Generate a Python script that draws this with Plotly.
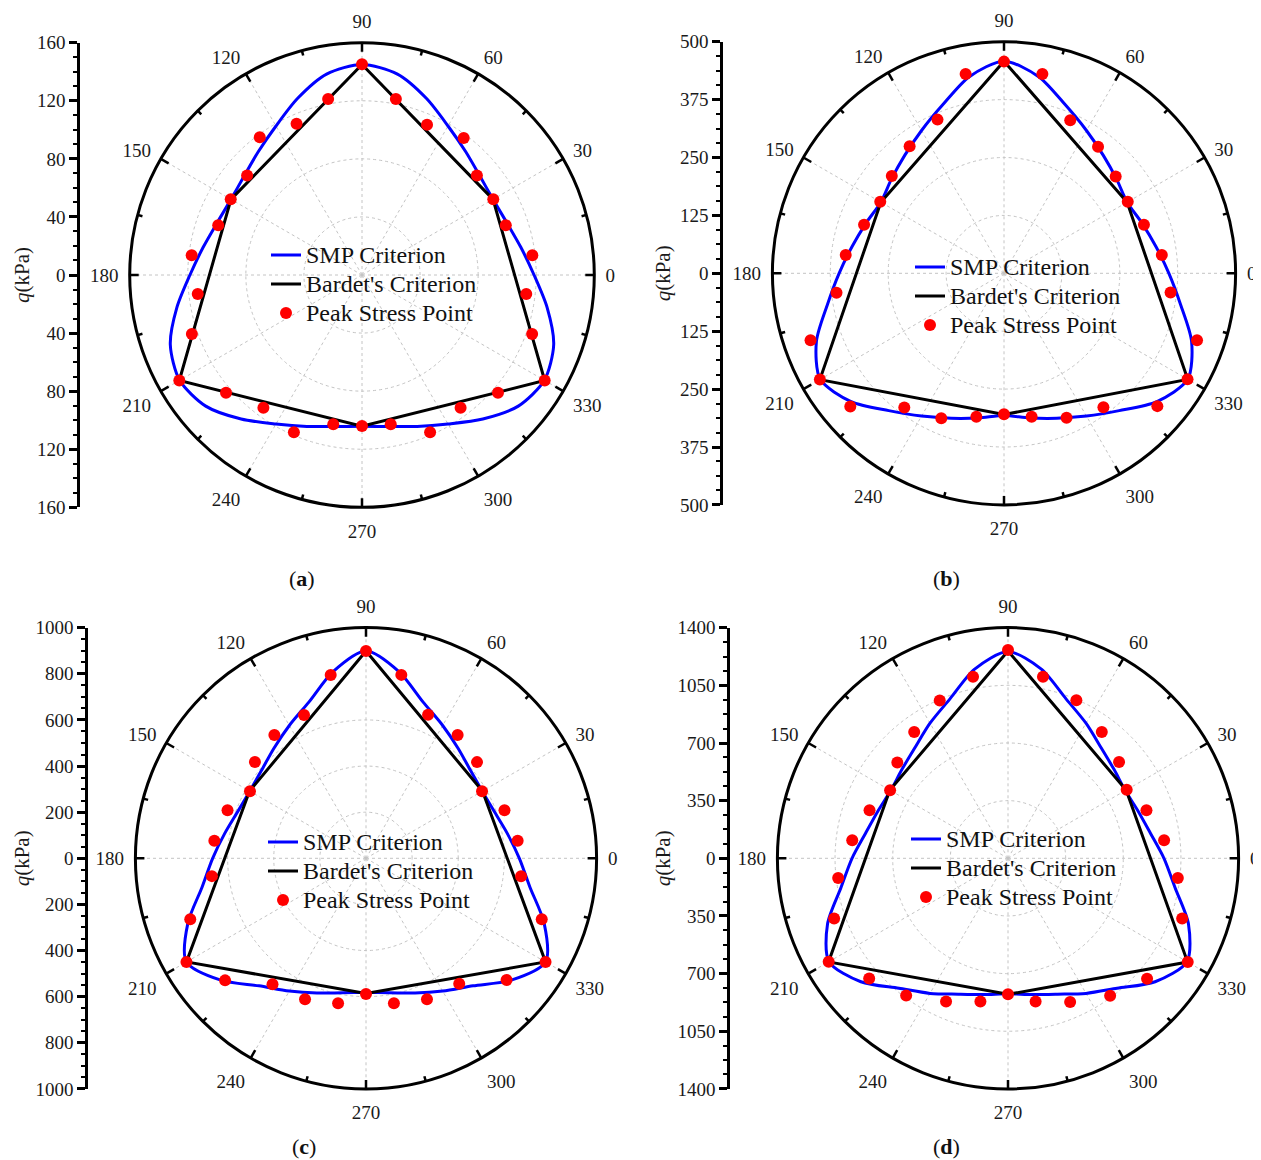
import plotly.graph_objects as go

SERIF = "Liberation Serif, Times New Roman, serif"
OFF = 8                      # default page (body) margin of the html page
W, H = 1261 - OFF, 1160 - OFF

# ---------------- data ----------------
# angles (deg) of the peak stress points
theta_pts = [90, 79.1, 66.6, 53.4, 40.9, 30, 19.1, 6.6, 353.4, 340.9, 330, 319.1,
             306.6, 293.4, 280.9, 270, 259.1, 246.6, 233.4, 220.9, 210, 199.1,
             186.6, 173.4, 160.9, 150, 139.1, 126.6, 113.4, 100.9]

peak_a = [145.1, 123.4, 112.8, 117.5, 104.7, 104.4, 104.8, 118.1, 113.9, 124.0, 145.3, 123.9,
          113.9, 118.1, 104.7, 104.0, 104.7, 118.1, 113.9, 123.9, 145.3, 124.0,
          113.9, 118.1, 104.8, 104.4, 104.7, 118.1, 113.5, 123.4]
peak_b = [457, 438, 360, 340.5, 319, 308.5, 319.7, 343, 362, 441, 457.5, 438,
          360, 340, 315.3, 304.4, 315.6, 341, 361, 439, 459, 442,
          364, 344, 319.7, 308.5, 320.5, 341.7, 361.5, 438]
peak_c = [899, 810, 678, 666.5, 637, 581, 635.5, 662, 677, 806.5, 899, 806.4,
          678, 665.7, 640.2, 588.5, 640.2, 665.7, 680, 808.5, 899, 806.5,
          672.7, 662, 635.5, 581, 637.3, 666.5, 676.7, 809.6]
peak_d = [1265, 1123, 1045, 955, 892, 832, 889.6, 954, 1038, 1119, 1260, 1117,
          1040, 950, 886, 825.6, 886, 947, 1037, 1115, 1257, 1117,
          1038, 952, 889.6, 826.5, 889, 955, 1043.5, 1123]

# SMP criterion curve, sampled every 10 deg
theta_smp = [0, 10, 20, 30, 40, 50, 60, 70, 80, 90, 100, 110, 120, 130, 140, 150, 160, 170,
             180, 190, 200, 210, 220, 230, 240, 250, 260, 270, 280, 290, 300, 310, 320, 330,
             340, 350, 360]
smp_a = [118.5, 111, 106, 104.2, 106, 111, 118.5, 129.5, 140.5, 145, 140.5, 129.5, 118.5,
         111, 106, 104.2, 106, 111, 118.5, 129.5, 140.5, 145, 140.5, 129.5, 118.5, 111, 106,
         104.2, 106, 111, 118.5, 129.5, 140.5, 145, 140.5, 129.5, 118.5]
smp_b = [356, 333, 317, 307, 317, 333, 356, 387, 431, 458, 431, 387, 356,
         333, 317, 307, 317, 333, 356, 387, 431, 458, 431, 387, 356, 333, 317,
         307, 317, 333, 356, 387, 431, 458, 431, 387, 356]
smp_c = [665, 622, 592, 582, 592, 622, 665, 722, 822, 899, 822, 722, 665,
         622, 592, 582, 592, 622, 665, 722, 822, 899, 822, 722, 665, 622, 592,
         582, 592, 622, 665, 722, 822, 899, 822, 722, 665]
smp_d = [947, 878, 840, 822, 840, 878, 947, 1030, 1166, 1255, 1166, 1030, 947,
         878, 840, 822, 840, 878, 947, 1030, 1166, 1255, 1166, 1030, 947, 878, 840,
         822, 840, 878, 947, 1030, 1166, 1255, 1166, 1030, 947]

# Bardet's criterion (straight lines between vertices)
theta_bardet = [90, 150, 210, 270, 330, 30, 90]
bardet_a = [145, 104.2, 145.3, 104.2, 145.3, 104.2, 145]
bardet_b = [458, 307, 459, 305, 458, 307, 458]
bardet_c = [899, 583, 899, 586, 899, 583, 899]
bardet_d = [1259, 828, 1258, 826, 1259, 828, 1259]

# q axis ranges / ticks
qmax = [160, 500, 1000, 1400]
qstep = [40, 125, 200, 350]
angle_ticks = [0, 30, 60, 90, 120, 150, 180, 210, 240, 270, 300, 330]
panel_labels = ["a", "b", "c", "d"]
series_names = ["SMP Criterion", "Bardet's Criterion", "Peak Stress Point"]

# ---------------- layout geometry (page px) ----------------
centers = [(362, 275, 232.3), (1004, 273.3, 231.6), (366, 858.3, 230.6), (1008, 858.3, 230.6)]
axis_x = [80, 723, 88, 730]
title_x = [22, 663, 22, 663]
legend_text = [(306, 255), (950, 267), (303, 842), (946, 839)]   # text start x, first row y
label_pos = [(302, 578), (946, 578), (304, 1146), (946, 1146)]


def fx(x):
    return (x - OFF) / W


def fy(y):
    return 1 - (y - OFF) / H


peaks = [peak_a, peak_b, peak_c, peak_d]
smps = [smp_a, smp_b, smp_c, smp_d]
bardets = [bardet_a, bardet_b, bardet_c, bardet_d]

LEG_BASE = 20
LEG_SIZE = 24


def lname(s):
    return "<span style='font-size:%dpx'>%s</span>" % (LEG_SIZE, s)


fig = go.Figure()
layout = dict(width=W, height=H, margin=dict(l=0, r=0, t=0, b=0, autoexpand=False),
              paper_bgcolor="white", plot_bgcolor="white", showlegend=True,
              annotations=[])

for i in range(4):
    k = "" if i == 0 else str(i + 1)
    polar = "polar" + k
    leg = "legend" + k
    cx, cy, R = centers[i]
    xd = [fx(cx - R), fx(cx + R)]
    yd = [fy(cy + R), fy(cy - R)]
    rm = qmax[i]
    st = qstep[i]

    fig.add_trace(go.Scatterpolar(r=smps[i], theta=theta_smp, mode="lines",
                                  line=dict(color="#0000FF", width=3, shape="spline", smoothing=0.8),
                                  name=lname(series_names[0]), subplot=polar, legend=leg))
    fig.add_trace(go.Scatterpolar(r=bardets[i], theta=theta_bardet, mode="lines",
                                  line=dict(color="black", width=3),
                                  name=lname(series_names[1]), subplot=polar, legend=leg))
    fig.add_trace(go.Scatterpolar(r=peaks[i], theta=theta_pts, mode="markers",
                                  marker=dict(color="#FF0000", size=12),
                                  name=lname(series_names[2]), subplot=polar, legend=leg))
    # inward angular ticks: major every 30 deg, minor in between
    mt, mr = [], []
    for a in angle_ticks:
        mt += [a, a, None, a + 15, a + 15, None]
        mr += [rm * (1 - 9 / R), rm, None, rm * (1 - 5 / R), rm, None]
    fig.add_trace(go.Scatterpolar(r=mr, theta=mt, mode="lines",
                                  line=dict(color="black", width=2.5),
                                  showlegend=False, hoverinfo="skip", subplot=polar))

    layout[polar] = dict(
        domain=dict(x=xd, y=yd), bgcolor="white",
        angularaxis=dict(rotation=0, direction="counterclockwise",
                         tickmode="array", tickvals=angle_ticks,
                         ticktext=[str(a) for a in angle_ticks],
                         ticks="outside", ticklen=6, tickwidth=1, tickcolor="rgba(0,0,0,0)",
                         showline=True, linewidth=3, linecolor="black",
                         showgrid=True, gridcolor="#c4c4c4", gridwidth=1, griddash="dot",
                         tickfont=dict(family=SERIF, size=19, color="#1a1a1a")),
        radialaxis=dict(range=[0, rm], tickmode="array",
                        tickvals=[st * j for j in range(1, 4)] + [rm],
                        showticklabels=False, ticks="", showline=False,
                        showgrid=True, gridcolor="#c4c4c4", gridwidth=1, griddash="dot"),
    )

    # separate vertical q axis on the left
    xa = "xaxis" + str(i + 5)
    ya = "yaxis" + str(i + 5)
    xf = fx(axis_x[i])
    layout[xa] = dict(domain=[xf, xf + 0.01], range=[0, 1], visible=False, anchor="y" + str(i + 5))
    tv = [-rm + st * j for j in range(int(2 * rm / st) + 1)]
    layout[ya] = dict(domain=yd, anchor="x" + str(i + 5), range=[-rm, rm], side="left",
                      tickmode="array", tickvals=tv, ticktext=[str(abs(v)) for v in tv],
                      ticks="outside", ticklen=8, tickwidth=2.5, tickcolor="black",
                      showline=True, linewidth=2.5, linecolor="black",
                      showgrid=False, zeroline=False,
                      minor=dict(ticks="outside", ticklen=4, tickwidth=1.8, tickcolor="black",
                                 dtick=st / 4, tick0=0, showgrid=False),
                      tickfont=dict(family=SERIF, size=19, color="#1a1a1a"))
    fig.add_trace(go.Scatter(x=[], y=[], xaxis="x" + str(i + 5), yaxis="y" + str(i + 5),
                             showlegend=False, hoverinfo="skip"))

    tx, ty = legend_text[i]
    row_h = LEG_BASE * 1.3 + 3
    layout[leg] = dict(x=fx(tx - 40), y=fy(ty - 5 - row_h / 2), xanchor="left", yanchor="top",
                       bgcolor="rgba(0,0,0,0)", borderwidth=0,
                       font=dict(family=SERIF, size=LEG_BASE, color="#111"),
                       tracegroupgap=0)

    layout["annotations"].append(dict(
        text="<i>q</i>(kPa)", x=fx(title_x[i]), y=fy(cy), xref="paper", yref="paper",
        showarrow=False, textangle=-90, font=dict(family=SERIF, size=21, color="#1a1a1a"),
        xanchor="center", yanchor="middle"))
    px_, py_ = label_pos[i]
    layout["annotations"].append(dict(
        text="(<b>" + panel_labels[i] + "</b>)", x=fx(px_), y=fy(py_),
        xref="paper", yref="paper", showarrow=False,
        font=dict(family=SERIF, size=22, color="#111"),
        xanchor="center", yanchor="middle"))

fig.update_layout(**layout)
fig.write_html("out.html")
